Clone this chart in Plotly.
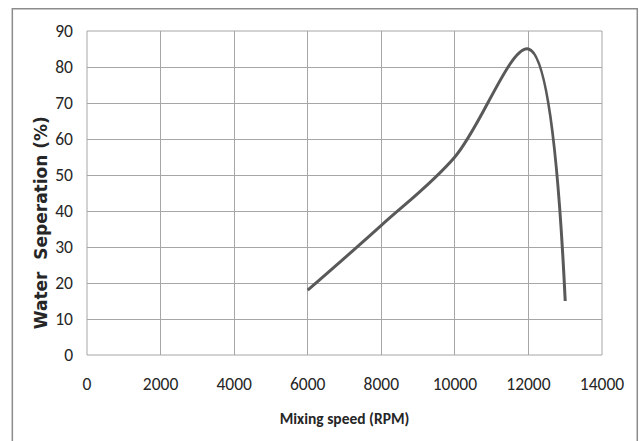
import plotly.graph_objects as go

speed_rpm = [6000, 8000, 10000, 12000, 13000]
water_sep = [18, 36, 55, 85, 15]
x_ticks = [0, 2000, 4000, 6000, 8000, 10000, 12000, 14000]
y_ticks = [0, 10, 20, 30, 40, 50, 60, 70, 80, 90]

FONT = "Liberation Sans Narrow, Carlito, Arial Narrow, Lato, sans-serif"
GRID = "#a6a6a6"

fig = go.Figure()
fig.add_trace(go.Scatter(
    x=speed_rpm, y=water_sep, mode="lines",
    line=dict(color="#595959", width=3, shape="spline", smoothing=1),
    showlegend=False, hoverinfo="x+y",
))

fig.update_layout(
    width=639, height=441,
    margin=dict(l=86.5, r=37.3, t=31.3, b=85.7, autoexpand=False),
    paper_bgcolor="white", plot_bgcolor="white",
    font=dict(family=FONT, color="#262626", size=17.5),
    xaxis=dict(
        range=[0, 14000], tickvals=x_ticks, ticktext=[str(v) for v in x_ticks],
        showgrid=True, gridcolor=GRID, gridwidth=1, zeroline=False,
        showline=False, ticks="", ticklabelstandoff=16, automargin=False,
        title=dict(text="<b>Mixing speed (RPM)</b>", font=dict(size=15.5, family=FONT), standoff=19),
    ),
    yaxis=dict(
        range=[0, 90], tickvals=y_ticks, ticktext=[str(v) for v in y_ticks],
        showgrid=True, gridcolor=GRID, gridwidth=1, zeroline=False,
        showline=False, ticks="", ticklabelstandoff=13, automargin=False,
    ),
    annotations=[
        dict(text="<b>Water  Seperation (%)</b>", xref="paper", yref="paper",
             x=(40 - 86.5) / 515.2, y=(355.3 - 223) / 324, xanchor="center", yanchor="middle",
             textangle=-90, showarrow=False,
             font=dict(size=17, family="DejaVu Sans, sans-serif", color="#262626")),
    ],
    shapes=[
        dict(type="rect", xref="paper", yref="paper",
             x0=-0.145, x1=1.0685, y0=-0.4, y1=1.069,
             line=dict(color="#8c8c8c", width=1.5), fillcolor="rgba(0,0,0,0)", layer="below"),
        dict(type="line", xref="paper", yref="paper", x0=0, x1=1, y0=0, y1=0,
             line=dict(color=GRID, width=1)),
        dict(type="line", xref="paper", yref="paper", x0=1, x1=1, y0=0, y1=1,
             line=dict(color=GRID, width=1)),
        dict(type="line", xref="paper", yref="paper", x0=0, x1=0, y0=0, y1=1,
             line=dict(color=GRID, width=1)),
        dict(type="line", xref="paper", yref="paper", x0=0, x1=1, y0=1, y1=1,
             line=dict(color=GRID, width=1)),
    ],
)

fig.write_html("out.html", config={"displayModeBar": False},
               post_script="document.body.style.margin='0';document.body.style.overflow='hidden';")
